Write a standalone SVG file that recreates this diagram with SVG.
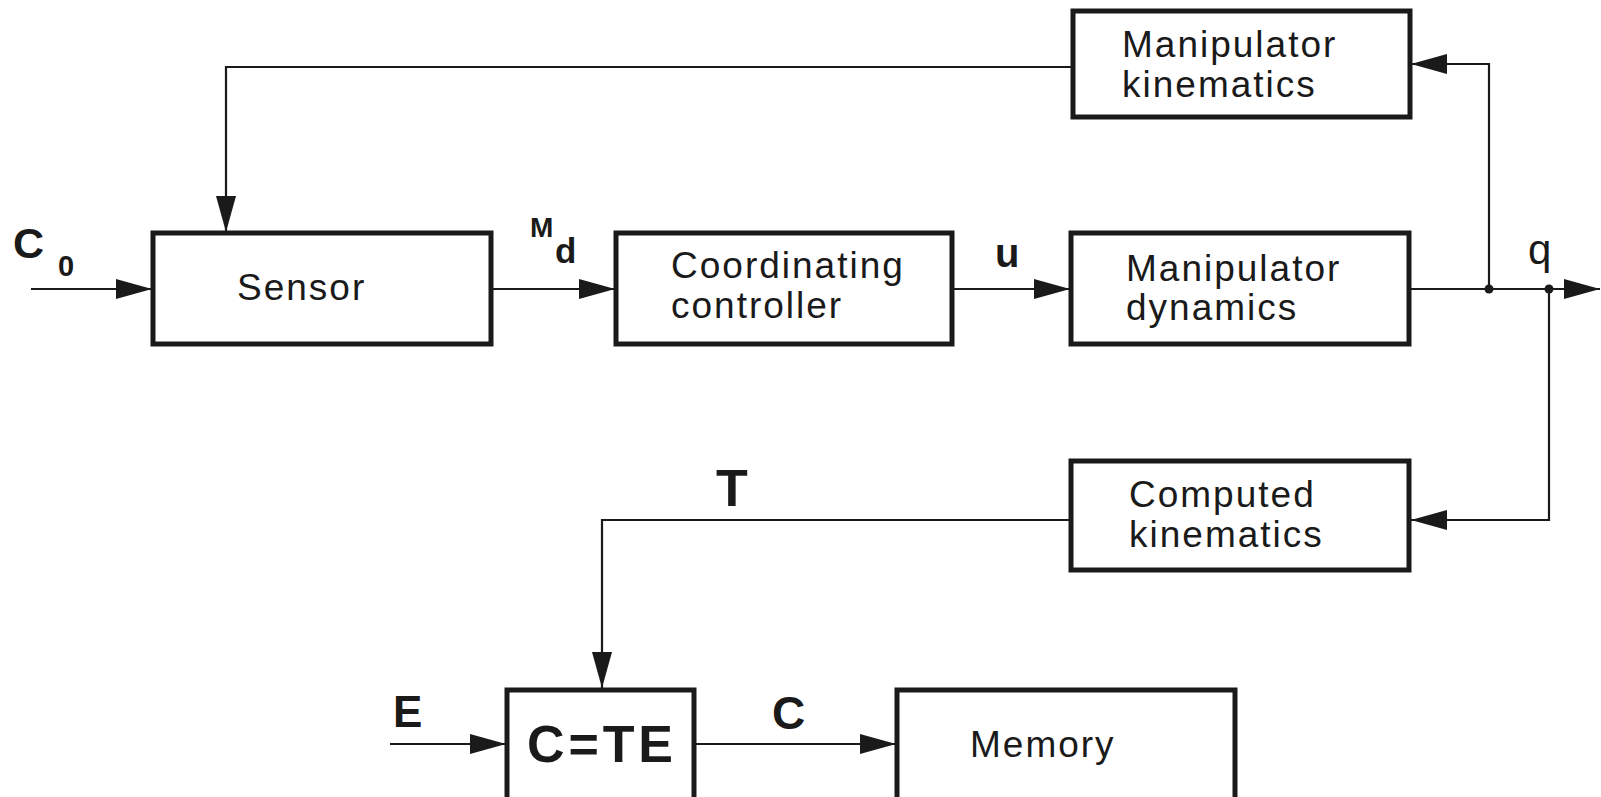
<svg xmlns="http://www.w3.org/2000/svg" width="1601" height="797" viewBox="0 0 1601 797">
<style>
.box{fill:#fff;stroke:#1a1a1a;stroke-width:5}
.ln{fill:none;stroke:#1a1a1a;stroke-width:2.2}
.t{font-family:"Liberation Sans",Arial,sans-serif;font-size:37px;letter-spacing:2px;fill:#1a1a1a}
.b{font-family:"Liberation Sans",Arial,sans-serif;font-weight:bold;fill:#1a1a1a}
.r{font-family:"Liberation Sans",Arial,sans-serif;fill:#1a1a1a}
</style>
<defs>
<marker id="ah" markerUnits="userSpaceOnUse" markerWidth="36" markerHeight="20" refX="36" refY="10" orient="auto">
<path d="M0,0 L36,10 L0,20 z" fill="#1a1a1a"/>
</marker>
</defs>
<rect width="1601" height="797" fill="#fff"/>
<g id="connectors">
<line class="ln" x1="31" y1="289" x2="152" y2="289" marker-end="url(#ah)"/>
<polyline class="ln" points="1072,67 226,67 226,232" marker-end="url(#ah)"/>
<line class="ln" x1="491" y1="289" x2="615" y2="289" marker-end="url(#ah)"/>
<line class="ln" x1="952" y1="289" x2="1070" y2="289" marker-end="url(#ah)"/>
<line class="ln" x1="1409" y1="289" x2="1600" y2="289" marker-end="url(#ah)"/>
<polyline class="ln" points="1489,289 1489,64 1411,64" marker-end="url(#ah)"/>
<polyline class="ln" points="1549,289 1549,520 1411,520" marker-end="url(#ah)"/>
<polyline class="ln" points="1071,520 602,520 602,688" marker-end="url(#ah)"/>
<line class="ln" x1="390" y1="744" x2="506" y2="744" marker-end="url(#ah)"/>
<line class="ln" x1="694" y1="744" x2="896" y2="744" marker-end="url(#ah)"/>
<circle cx="1489" cy="289" r="4.5" fill="#1a1a1a"/>
<circle cx="1549" cy="289" r="4.5" fill="#1a1a1a"/>
</g>
<g id="manipulator-kinematics">
<rect class="box" x="1073" y="11" width="337" height="106"/>
<text class="t" x="1122" y="57">Manipulator</text>
<text class="t" x="1122" y="97">kinematics</text>
</g>
<g id="sensor">
<rect class="box" x="153" y="233" width="338" height="111"/>
<text class="t" x="237" y="300">Sensor</text>
</g>
<g id="coordinating-controller">
<rect class="box" x="616" y="233" width="336" height="111"/>
<text class="t" x="671" y="278">Coordinating</text>
<text class="t" x="671" y="318">controller</text>
</g>
<g id="manipulator-dynamics">
<rect class="box" x="1071" y="233" width="338" height="111"/>
<text class="t" x="1126" y="281">Manipulator</text>
<text class="t" x="1126" y="320">dynamics</text>
</g>
<g id="computed-kinematics">
<rect class="box" x="1071" y="461" width="338" height="109"/>
<text class="t" x="1129" y="507">Computed</text>
<text class="t" x="1129" y="547">kinematics</text>
</g>
<g id="cte">
<rect class="box" x="507" y="690" width="187" height="112"/>
<text class="b" x="527" y="762" font-size="52" textLength="146" lengthAdjust="spacing">C=TE</text>
</g>
<g id="memory">
<rect class="box" x="897" y="690" width="338" height="112"/>
<text class="t" x="970" y="757">Memory</text>
</g>
<g id="labels">
<text class="b" x="13" y="258" font-size="43">C</text>
<text class="b" x="58" y="276" font-size="29">0</text>
<text class="b" x="530" y="237" font-size="28">M</text>
<text class="b" x="555" y="263" font-size="35">d</text>
<text class="b" x="995" y="267" font-size="40">u</text>
<text class="r" x="1528" y="264" font-size="42">q</text>
<text class="b" x="716" y="506" font-size="52">T</text>
<text class="b" x="393" y="727" font-size="44">E</text>
<text class="b" x="772" y="729" font-size="46">C</text>
</g>
</svg>
